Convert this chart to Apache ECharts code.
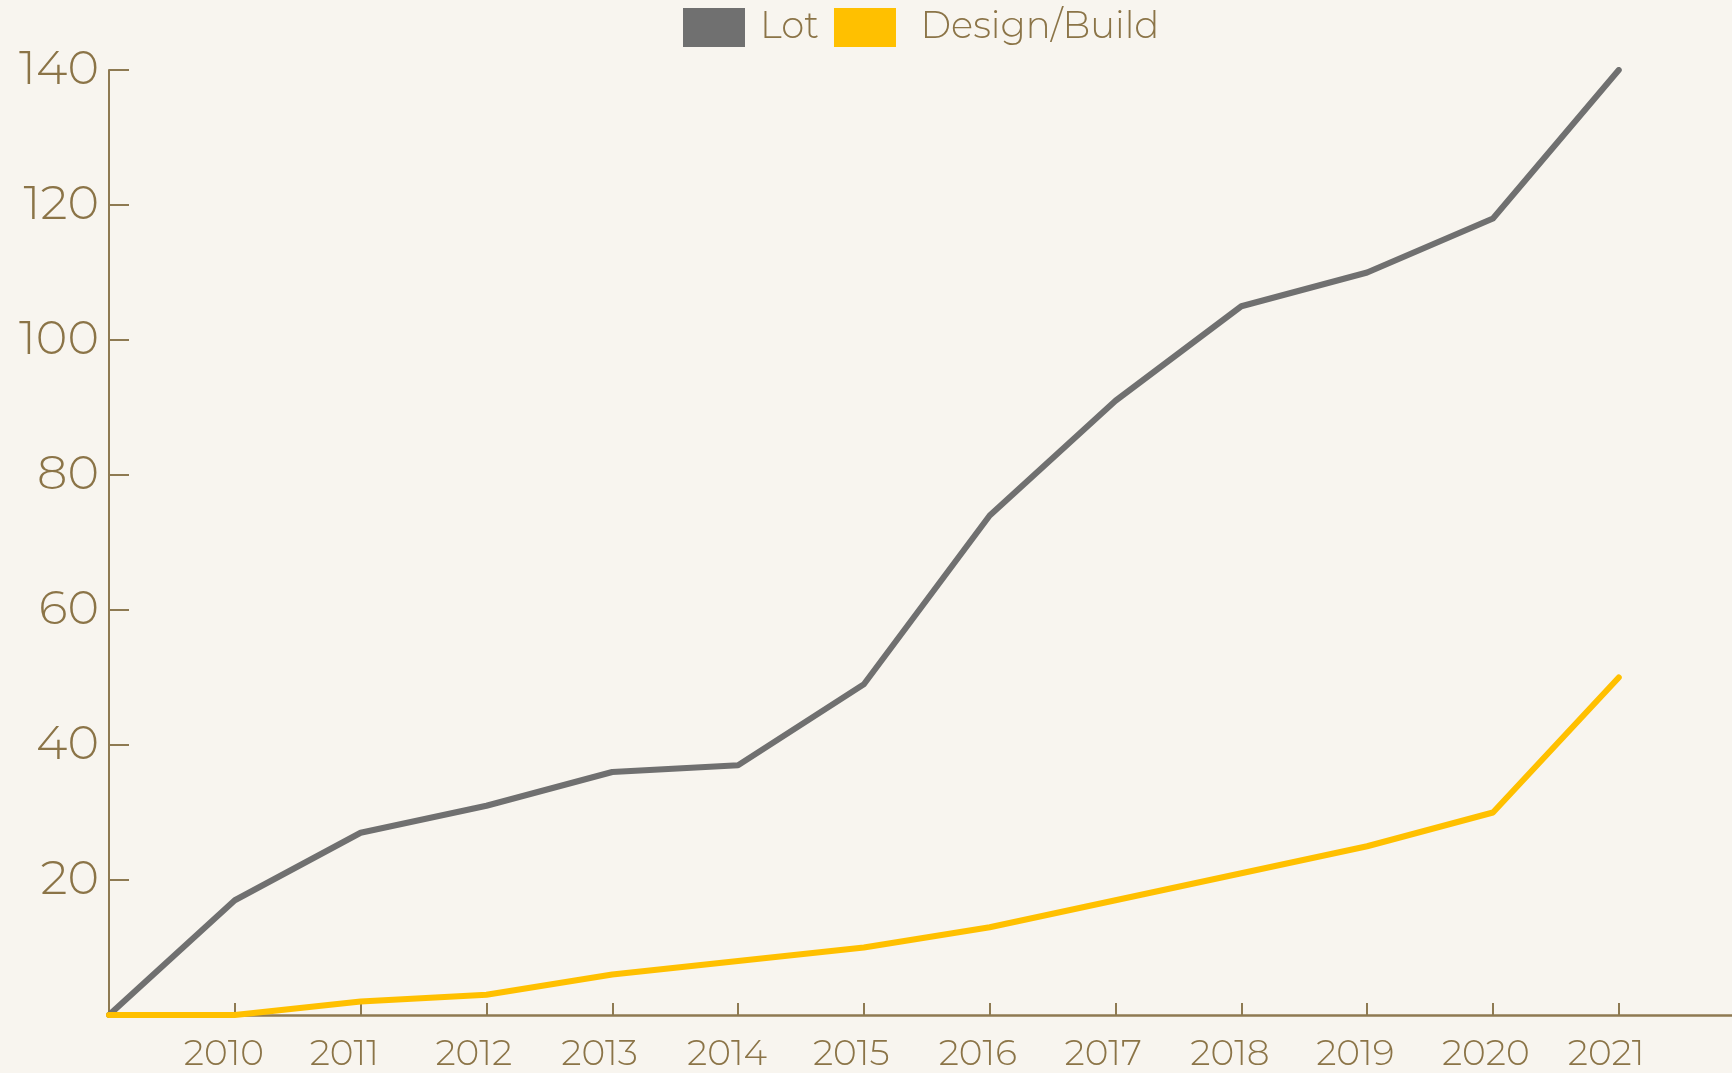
<!DOCTYPE html>
<html>
<head>
<meta charset="utf-8">
<style>
  html, body { margin: 0; padding: 0; background: #f8f5ef; }
  #main { width: 1732px; height: 1073px; }
</style>
<script src="https://cdn.jsdelivr.net/npm/echarts@6/dist/echarts.min.js"></script>
</head>
<body>
<div id="main"></div>
<script>
var years = [2009, 2010, 2011, 2012, 2013, 2014, 2015, 2016, 2017, 2018, 2019, 2020, 2021];
var lot = [0, 17, 27, 31, 36, 37, 49, 74, 91, 105, 110, 118, 140];
var designBuild = [0, 0, 2, 3, 6, 8, 10, 13, 17, 21, 25, 30, 50];
var yTicks = [20, 40, 60, 80, 100, 120, 140];

var txt = '#8b7447';
var axisCol = '#8e7a52';
var font = 'Montserrat, Lato, "Open Sans", sans-serif';

function pairs(vals) {
  return years.map(function (y, i) { return [y, vals[i]]; });
}

var chart = echarts.init(document.getElementById('main'), null, { renderer: 'canvas' });

var option = {
  backgroundColor: '#f8f5ef',
  animation: false,
  legend: {
    left: 683,
    top: 8,
    padding: 0,
    itemWidth: 62,
    itemHeight: 39,
    itemGap: 15,
    icon: 'rect',
    formatter: function (name) { return name === 'Design/Build' ? ' ' + name : name; },
    textStyle: { color: txt, fontSize: 37, fontFamily: font, fontWeight: 300, padding: [0, 0, 0, 10] },
    data: ['Lot', 'Design/Build']
  },
  grid: { left: 109, right: 0, top: 70, bottom: 58 },
  xAxis: {
    type: 'value',
    min: 2009,
    max: 2021.9,
    interval: 1,
    splitLine: { show: false },
    axisLine: { lineStyle: { color: axisCol, width: 2.5 } },
    axisTick: { inside: true, length: 12, lineStyle: { color: axisCol, width: 2 } },
    axisLabel: {
      margin: 21,
      color: txt,
      fontSize: 36,
      fontFamily: font,
      fontWeight: 300,
      showMaxLabel: false,
      formatter: function (v) {
        if (v === years[0] || v !== Math.round(v)) return '';
        return '{a|' + v + '}';
      },
      rich: { a: { width: 102, align: 'left', color: txt, fontSize: 36, fontFamily: font, fontWeight: 300 } }
    }
  },
  yAxis: {
    type: 'value',
    min: 0,
    max: 140,
    interval: 20,
    splitLine: { show: false },
    axisLine: { show: true, lineStyle: { color: axisCol, width: 2 } },
    axisTick: { show: true, inside: true, length: 20, lineStyle: { color: axisCol, width: 2 } },
    axisLabel: {
      margin: 10,
      color: txt,
      fontSize: 48,
      fontFamily: font,
      fontWeight: 300,
      formatter: function (v) { return yTicks.indexOf(v) >= 0 ? String(v) : ''; }
    }
  },
  series: [
    {
      name: 'Lot',
      type: 'line',
      data: pairs(lot),
      showSymbol: false,
      color: '#707070',
      lineStyle: { width: 6, color: '#707070', cap: 'round', join: 'round' }
    },
    {
      name: 'Design/Build',
      type: 'line',
      data: pairs(designBuild),
      showSymbol: false,
      color: '#ffc000',
      lineStyle: { width: 6, color: '#ffc000', cap: 'round', join: 'round' }
    }
  ]
};

chart.setOption(option);
window.addEventListener('resize', chart.resize);
</script>
</body>
</html>
